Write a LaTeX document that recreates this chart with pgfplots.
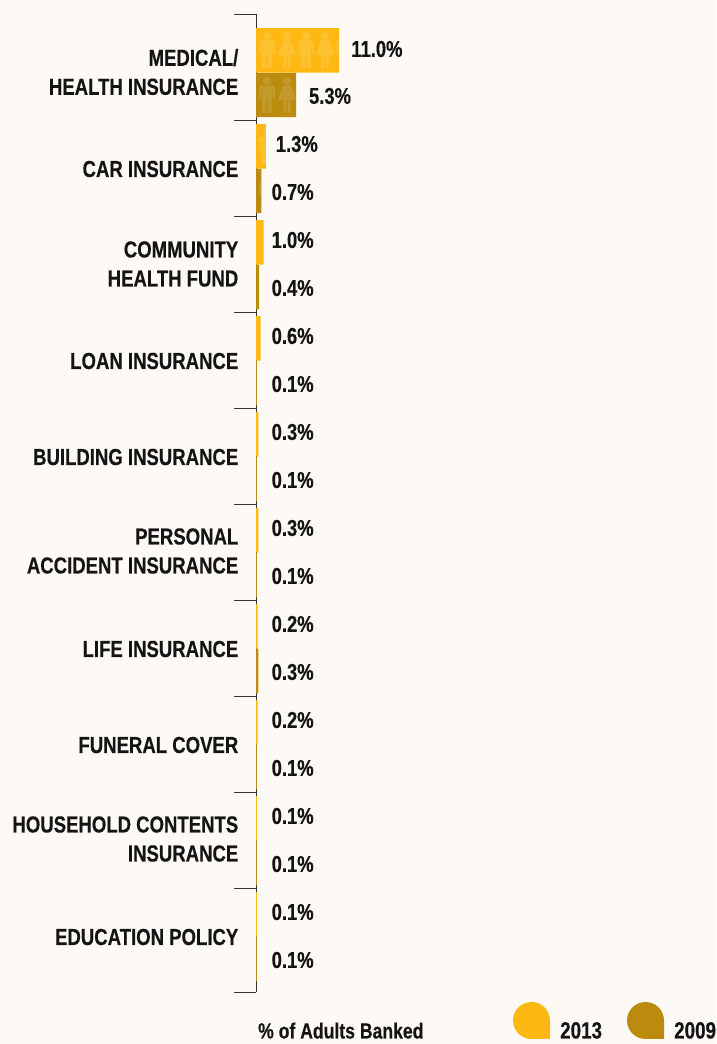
\documentclass[border=0pt]{standalone}
\usepackage{pgfplots}
\pgfplotsset{compat=1.18}
\usepackage{fontspec}
\setmainfont{Liberation Sans}[FakeStretch=0.80,BoldFeatures={FakeBold=0.35,FakeStretch=0.80}]
\definecolor{bg}{HTML}{FDFAF5}
\definecolor{c13}{HTML}{FDB813}
\definecolor{c09}{HTML}{BA8B0D}
\definecolor{ink}{HTML}{141414}
\newcommand{\rectp}[4]{\pgfpathrectangle{\pgfpoint{#1pt}{#2pt}}{\pgfpoint{#3pt}{#4pt}}}
\newcommand{\manpath}{%
  \pgfpathcircle{\pgfpoint{0pt}{14pt}}{4.2pt}%
  \pgfpathmoveto{\pgfpoint{-8pt}{-4pt}}%
  \pgfpathlineto{\pgfpoint{-8pt}{7pt}}%
  \pgfpathlineto{\pgfpoint{-6pt}{9.5pt}}%
  \pgfpathlineto{\pgfpoint{6pt}{9.5pt}}%
  \pgfpathlineto{\pgfpoint{8pt}{7pt}}%
  \pgfpathlineto{\pgfpoint{8pt}{-4pt}}%
  \pgfpathlineto{\pgfpoint{5.9pt}{-4pt}}%
  \pgfpathlineto{\pgfpoint{5.9pt}{5pt}}%
  \pgfpathlineto{\pgfpoint{5pt}{5pt}}%
  \pgfpathlineto{\pgfpoint{5pt}{-18pt}}%
  \pgfpathlineto{\pgfpoint{0.6pt}{-18pt}}%
  \pgfpathlineto{\pgfpoint{0.6pt}{-4pt}}%
  \pgfpathlineto{\pgfpoint{-0.6pt}{-4pt}}%
  \pgfpathlineto{\pgfpoint{-0.6pt}{-18pt}}%
  \pgfpathlineto{\pgfpoint{-5pt}{-18pt}}%
  \pgfpathlineto{\pgfpoint{-5pt}{5pt}}%
  \pgfpathlineto{\pgfpoint{-5.9pt}{5pt}}%
  \pgfpathlineto{\pgfpoint{-5.9pt}{-4pt}}%
  \pgfpathclose}
\pgfdeclareplotmark{man}{\manpath\pgfusepathqfill}
\pgfdeclareplotmark{woman}{%
  \pgfpathcircle{\pgfpoint{0pt}{14pt}}{4.2pt}%
  \pgfpathmoveto{\pgfpoint{-9pt}{-5pt}}%
  \pgfpathlineto{\pgfpoint{-4pt}{9.5pt}}%
  \pgfpathlineto{\pgfpoint{4pt}{9.5pt}}%
  \pgfpathlineto{\pgfpoint{9pt}{-5pt}}%
  \pgfpathlineto{\pgfpoint{3.6pt}{-5pt}}%
  \pgfpathlineto{\pgfpoint{3.6pt}{-18pt}}%
  \pgfpathlineto{\pgfpoint{0.7pt}{-18pt}}%
  \pgfpathlineto{\pgfpoint{0.7pt}{-5pt}}%
  \pgfpathlineto{\pgfpoint{-0.7pt}{-5pt}}%
  \pgfpathlineto{\pgfpoint{-0.7pt}{-18pt}}%
  \pgfpathlineto{\pgfpoint{-3.6pt}{-18pt}}%
  \pgfpathlineto{\pgfpoint{-3.6pt}{-5pt}}%
  \pgfpathlineto{\pgfpoint{-9pt}{-5pt}}%
  \pgfpathclose\pgfusepathqfill}
\pgfdeclareplotmark{manA}{\begin{pgfscope}\rectp{-20}{-20}{15}{40}\pgfusepathqclip\manpath\pgfusepathqfill\end{pgfscope}}
\pgfdeclareplotmark{manB}{\begin{pgfscope}\rectp{-20}{-20}{19}{40}\pgfusepathqclip\manpath\pgfusepathqfill\end{pgfscope}}
\pgfdeclareplotmark{manC}{\begin{pgfscope}\rectp{-20}{-20}{14}{40}\pgfusepathqclip\manpath\pgfusepathqfill\end{pgfscope}}
\begin{document}
\begin{tikzpicture}[x=1pt,y=1pt]
\useasboundingbox (0,0) rectangle (716,1044);
\fill[bg] (0,0) rectangle (716,1044);
\begin{axis}[
  at={(256pt,52pt)}, anchor=south west,
  scale only axis, width=460pt, height=978pt,
  xmin=0, xmax=60.93, ymin=14, ymax=992, y dir=reverse,
  clip=false,
  axis x line=none, axis y line=left,
  axis line style={-,draw=black!80,line width=0.9pt},
  ytick={14,120,216,312,408,504,600,696,792,888,992},
  yticklabels={},
  tick align=outside, major tick length=22pt,
  y tick style={draw=black!80,line width=0.9pt},
  extra y ticks={72,169,264,361,457,551,649,745,839,937},
  extra y tick labels={{MEDICAL/\\HEALTH INSURANCE},{CAR INSURANCE},{COMMUNITY\\HEALTH FUND},{LOAN INSURANCE},{BUILDING INSURANCE},{PERSONAL\\ACCIDENT INSURANCE},{LIFE INSURANCE},{FUNERAL COVER},{HOUSEHOLD CONTENTS\\INSURANCE},{EDUCATION POLICY}},
  extra y tick style={major tick length=0pt, tick style={draw=none},
    yticklabel style={font=\fontsize{23.2}{29}\selectfont\bfseries, text=ink, align=right, inner sep=0pt, anchor=east, xshift=-17.5pt}},
  xbar, bar shift=0pt, bar width=44.4pt,
]
\addplot[draw=none, fill=c13] coordinates {(11.0,50.3)(1.3,146.3)(1.0,242.3)(0.6,338.3)(0.3,434.3)(0.3,530.3)(0.2,626.3)(0.2,722.3)(0.1,818.3)(0.1,914.3)};
\addplot[draw=none, fill=c09] coordinates {(5.3,95)(0.7,191)(0.4,287)(0.1,383)(0.1,479)(0.1,575)(0.3,671)(0.1,767)(0.1,863)(0.1,959)};
\addplot[xbar=false,only marks, mark=man, mark options={draw=none, fill=white, fill opacity=0.13}] coordinates {(1.457,50)(6.62,50)(1.457,95)};
\addplot[xbar=false,only marks, mark=woman, mark options={draw=none, fill=white, fill opacity=0.13}] coordinates {(4.106,50)(9.14,50)(4.106,95)};
\addplot[xbar=false,only marks, mark=manA, mark options={draw=none, fill=white, fill opacity=0.13}] coordinates {(11.66,50)};
\addplot[xbar=false,only marks, mark=manB, mark options={draw=none, fill=white, fill opacity=0.13}] coordinates {(1.457,146)};
\addplot[xbar=false,only marks, mark=manC, mark options={draw=none, fill=white, fill opacity=0.13}] coordinates {(1.457,191)};
\addplot[xbar=false,only marks, mark=none, point meta=explicit symbolic,
  nodes near coords, nodes near coords align={anchor=west},
  every node near coord/.append style={font=\fontsize{23}{24}\selectfont\bfseries, text=ink, inner sep=0pt}]
 table[meta=t] {
x y t
12.6 49 11.0\%
7.0 96 5.3\%
2.6 144 1.3\%
2.05 192 0.7\%
2.05 240 1.0\%
2.05 288 0.4\%
2.05 336 0.6\%
2.05 384 0.1\%
2.05 432 0.3\%
2.05 480 0.1\%
2.05 528 0.3\%
2.05 576 0.1\%
2.05 624 0.2\%
2.05 672 0.3\%
2.05 720 0.2\%
2.05 768 0.1\%
2.05 816 0.1\%
2.05 864 0.1\%
2.05 912 0.1\%
2.05 960 0.1\%
};
\end{axis}
\fill[c13] (550,5) -- (531.5,5) arc[start angle=270,end angle=-0,radius=18.5] -- cycle;
\fill[c09] (664,5) -- (645.5,5) arc[start angle=270,end angle=-0,radius=18.5] -- cycle;
\begin{scope}[every node/.style={inner sep=0pt, anchor=base west, text=ink}]
\node[font=\fontsize{22}{24}\selectfont\bfseries] at (258,5.5) {\% of Adults Banked};
\node[font=\fontsize{23.5}{24}\selectfont\bfseries] at (560,5.5) {2013};
\node[font=\fontsize{23.5}{24}\selectfont\bfseries] at (674,5.5) {2009};
\end{scope}
\end{tikzpicture}
\end{document}
